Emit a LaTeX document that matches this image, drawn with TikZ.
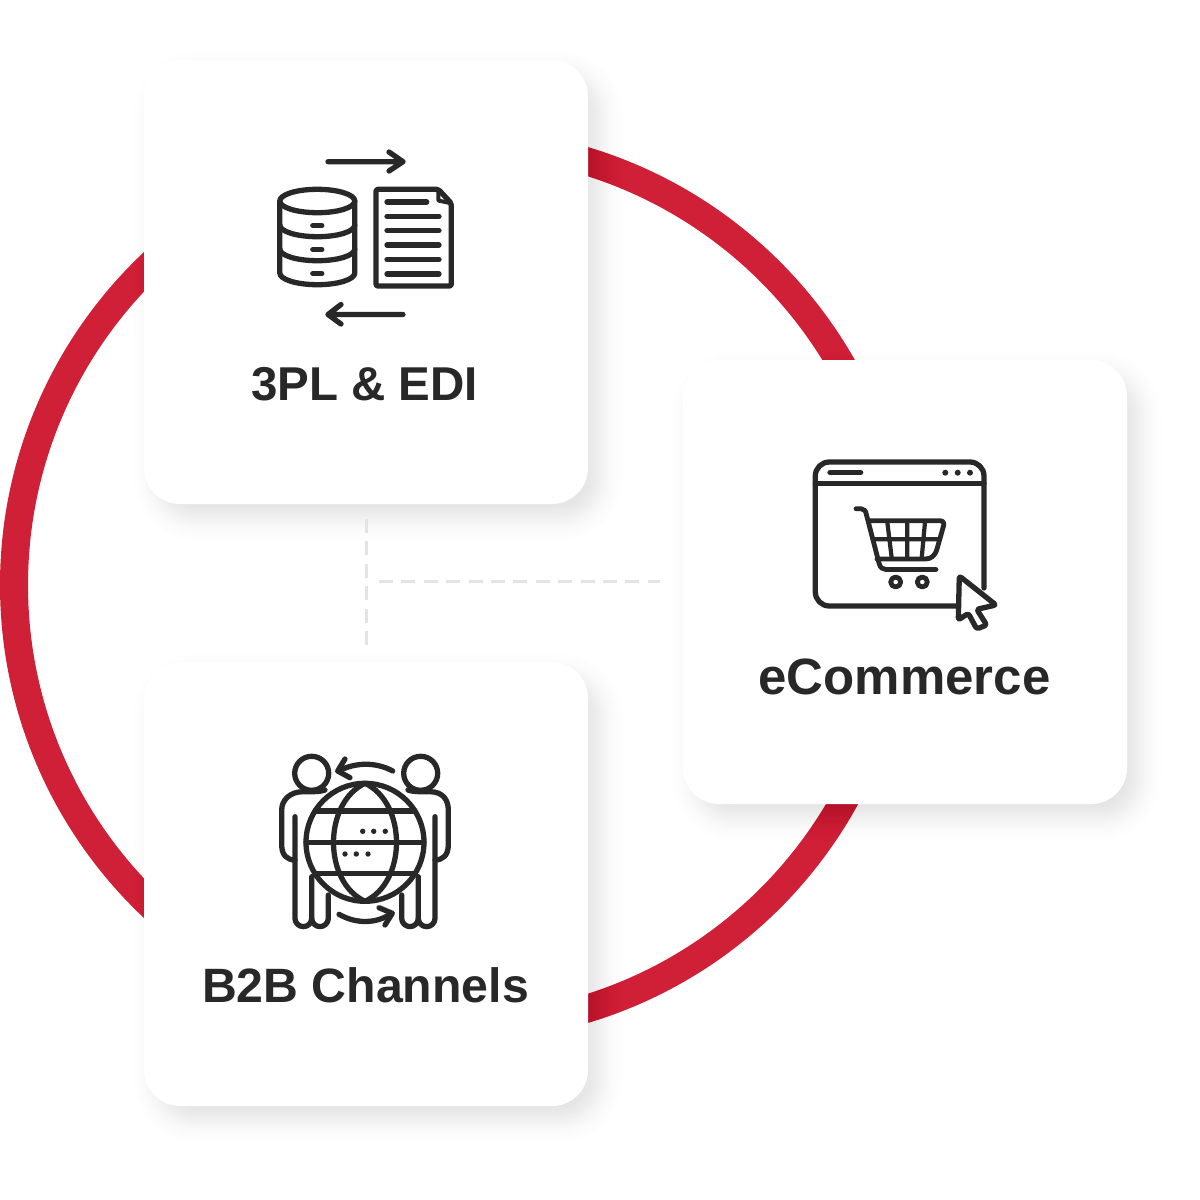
\documentclass[tikz,border=0pt]{standalone}
\usepackage{fontspec}
\setmainfont{Liberation Sans}
\definecolor{ringred}{HTML}{CF2037}
\definecolor{ink}{HTML}{282828}
\definecolor{dashgrey}{HTML}{E4E4E4}
\newcommand{\softshadow}[2]{%
  \foreach \e in {40,37.5,...,-40}{%
    \pgfmathsetmacro{\op}{0.0105*(1-abs(\e)/42)*(1-abs(\e)/42)}%
    \pgfmathsetmacro{\rr}{max(6,40+\e)}%
    \pgfmathsetmacro{\xa}{#1+12-222-\e}\pgfmathsetmacro{\xb}{#1+12+222+\e}%
    \pgfmathsetmacro{\ya}{#2+14-222-\e}\pgfmathsetmacro{\yb}{#2+14+222+\e}%
    \fill[black,opacity=\op,rounded corners=\rr pt] (\xa,\ya) rectangle (\xb,\yb);
  }%
}
\tikzset{
  card/.style={fill=white,rounded corners=36pt,minimum width=444pt,minimum height=444pt,inner sep=0pt,outer sep=0pt},
  icon/.style={draw=ink,line width=5.3pt,line cap=round,line join=round},
  cardlabel/.style={text=ink,anchor=base,inner sep=0pt,font=\fontsize{47.5}{52}\selectfont\bfseries},
  guide/.style={draw=dashgrey,line width=3pt,dash pattern=on 14pt off 8.4pt},
  dotmark/.style={fill=ink,draw=none}
}
\begin{document}
\begin{tikzpicture}[x=1pt,y=-1pt]
\useasboundingbox (0,0) rectangle (1200,1200);
\fill[white] (0,0) rectangle (1200,1200);
\draw[ringred,line width=28pt] (457,585) circle[radius=443pt];
\softshadow{366}{282}
\softshadow{905}{582}
\softshadow{366}{884}
\node[card] (edi) at (366,282) {};
\node[card] (ecom) at (905,582) {};
\node[card] (b2b) at (366,884) {};
\coordinate (junction) at (379,581);
\draw[guide] ([yshift=-15pt]edi.south) -- ([yshift=17pt]b2b.north);
\draw[guide] (junction) -- ([xshift=-23pt]ecom.west |- junction);
\node[cardlabel] (edilabel) at (364.5,400) {3PL \& EDI};
\node[cardlabel,font=\fontsize{51}{54}\selectfont\bfseries] (ecomlabel) at (904.5,694) {eCommerce};
\node[cardlabel,font=\fontsize{48.2}{52}\selectfont\bfseries] (b2blabel) at (365.5,1002) {B2B Channels};
% --- database and document icon
\draw[icon] (328,161.7) -- (403,161.7) (389,152) -- (403,161.7) -- (389,171);
\draw[icon] (403,314.5) -- (328,314.5) (341,304.5) -- (328,314.5) -- (341,324);
\draw[icon] (317.3,201) ellipse[x radius=37.5pt,y radius=11.7pt];
\draw[icon] (279.8,201) -- (279.8,273) arc[start angle=180,end angle=360,x radius=37.5pt,y radius=11.7pt] -- (354.8,201);
\draw[icon] (279.8,225) arc[start angle=180,end angle=360,x radius=37.5pt,y radius=11.7pt];
\draw[icon] (279.8,249) arc[start angle=180,end angle=360,x radius=37.5pt,y radius=11.7pt];
\draw[icon] (312.8,225.7) -- (321.8,225.7) (312.8,249.7) -- (321.8,249.7) (312.8,273.7) -- (321.8,273.7);
\draw[icon,rounded corners=2pt] (376,189.3) -- (438.3,189.3) -- (451.3,203.3) -- (451.3,286) -- (376,286) -- cycle;
\draw[icon,line width=4pt] (438.3,189.3) -- (438.3,200.5) -- (451.3,203.3);
\draw[icon] (387,202) -- (426.7,202) (387,216.3) -- (439,216.3) (387,230.7) -- (439,230.7) (387,245) -- (439,245) (387,259.7) -- (439,259.7) (387,274) -- (439,274);
% --- shop window icon
\draw[icon] (984,588) -- (984,476) arc[start angle=0,end angle=90,radius=14pt] -- (829.3,462) arc[start angle=90,end angle=180,radius=14pt] -- (815.3,592) arc[start angle=180,end angle=270,radius=14pt] -- (956,606);
\draw[icon] (815.3,483.3) -- (984,483.3);
\draw[icon] (830,472.7) -- (860.7,472.7);
\fill[dotmark] (945.3,472.7) circle[radius=3pt] (957.7,472.7) circle[radius=3pt] (970,472.7) circle[radius=3pt];
\draw[icon,line width=4.8pt] (856,508.7) -- (861,508.7) .. controls (864,508.7) and (866,511) .. (866.5,515) -- (879,563) .. controls (880,568) and (883,569.5) .. (886,569.5) -- (936,569.5);
\draw[icon,line width=4.8pt] (868.5,520.7) -- (940,520.7) .. controls (943,520.7) and (944.5,523) .. (943.5,526) -- (937,549) .. controls (935,556) and (931,559) .. (925,559) -- (877,559);
\draw[icon,line width=4.2pt] (873,539.3) -- (939,539.3) (887.3,522) -- (891.7,558) (907.3,522) -- (907.3,558) (925,522) -- (921.7,558);
\draw[icon,line width=4.8pt] (895.7,582) circle[radius=5pt] (922.3,582) circle[radius=5pt];
\draw[icon,fill=white,rounded corners=2.5pt] (959.3,576) -- (996,605) -- (976.7,609.3) -- (986.7,625) -- (976.7,629) -- (968.3,613.3) -- (958.3,620) -- cycle;
% --- partners and globe icon
\draw[icon] (311.7,773.3) circle[radius=17pt] (420.7,773.3) circle[radius=17pt];
\draw[icon] (325,790) .. controls (320,792) and (310,791.7) .. (303,791.7) .. controls (290,791.7) and (281.7,800) .. (281.7,810) -- (281.7,845) .. controls (281.7,855) and (287,860) .. (295,860);
\draw[icon] (408,790) .. controls (413,792) and (423,791.7) .. (430,791.7) .. controls (443,791.7) and (448.3,800) .. (448.3,810) -- (448.3,845) .. controls (448.3,855) and (443,860) .. (435,860);
\draw[icon] (295,816.7) -- (295,918.3) arc[start angle=180,end angle=360,radius=8.35pt] -- (311.7,876.7);
\draw[icon] (311.7,918.3) arc[start angle=180,end angle=360,radius=8.3pt] -- (328.3,895);
\draw[icon] (435,816.7) -- (435,918.3) arc[start angle=0,end angle=-180,radius=8.35pt] -- (418.3,876.7);
\draw[icon] (418.3,918.3) arc[start angle=0,end angle=-180,radius=8.3pt] -- (401.7,895);
\draw[icon] (365,842.3) circle[radius=59pt];
\draw[icon] (365,783.3) .. controls (323,803) and (323,882) .. (365,901.3) .. controls (407,882) and (407,803) .. (365,783.3);
\draw[icon] (315,811) -- (415,811) (306,842.3) -- (424,842.3) (315,873.7) -- (415,873.7);
\fill[dotmark] (362.7,831.3) circle[radius=2.7pt] (373.7,831.3) circle[radius=2.7pt] (385.3,831.3) circle[radius=2.7pt] (345,854) circle[radius=2.7pt] (356.3,854) circle[radius=2.7pt] (368,854) circle[radius=2.7pt];
\draw[icon] (392.7,771) .. controls (376,762) and (356,762) .. (338.5,771);
\draw[icon] (345,759) -- (337.7,771) -- (350,777.7);
\draw[icon] (339,914.3) .. controls (356,924) and (376,924) .. (391.5,913.5);
\draw[icon] (379,907.7) -- (392.3,913.3) -- (385,925);
\end{tikzpicture}
\end{document}
